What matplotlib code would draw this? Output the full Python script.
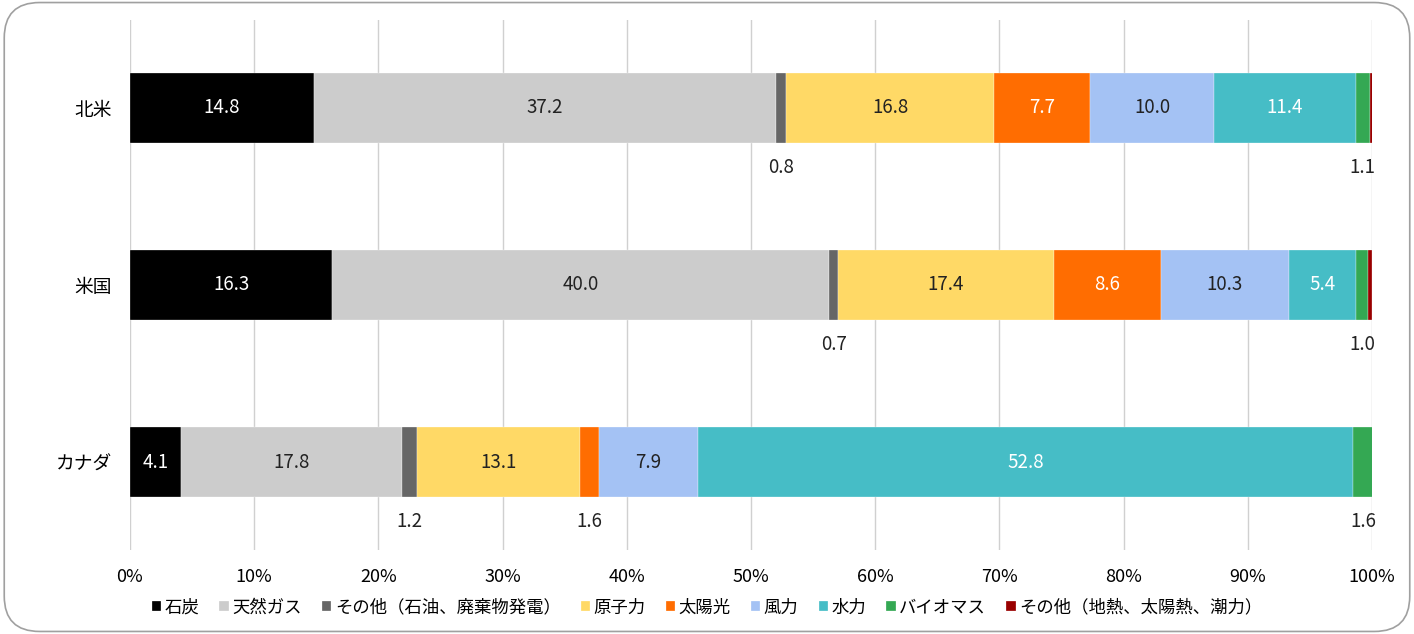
import matplotlib.pyplot as plt
import numpy as np
from matplotlib.patches import FancyBboxPatch

plt.rcParams['font.family'] = ['Noto Sans CJK JP', 'DejaVu Sans']

regions = ["北米", "米国", "カナダ"]
sources = ["石炭", "天然ガス", "その他（石油、廃棄物発電）", "原子力", "太陽光",
           "風力", "水力", "バイオマス", "その他（地熱、太陽熱、潮力）"]
coal = [14.8, 16.3, 4.1]
gas = [37.2, 40.0, 17.8]
other_thermal = [0.8, 0.7, 1.2]
nuclear = [16.8, 17.4, 13.1]
solar = [7.7, 8.6, 1.6]
wind = [10.0, 10.3, 7.9]
hydro = [11.4, 5.4, 52.8]
biomass = [1.1, 1.0, 1.6]
other_re = [0.3, 0.3, 0.0]

colors = ["#000000", "#cccccc", "#666666", "#ffd966", "#ff6d01",
          "#a4c2f4", "#46bdc6", "#34a853", "#990000"]
text_colors = ["white", "#222222", "#222222", "#222222", "white",
               "#222222", "white", "white", "white"]

series = [coal, gas, other_thermal, nuclear, solar, wind, hydro, biomass, other_re]

fig = plt.figure(figsize=(14.14, 6.34), dpi=100)
fig.patches.append(FancyBboxPatch((0.003, 0.004), 0.994, 0.992,
                                  boxstyle="round,pad=0,rounding_size=0.025",
                                  transform=fig.transFigure, fill=False,
                                  edgecolor="#a0a0a0", linewidth=1.2,
                                  mutation_aspect=14.14 / 6.34))
ax = fig.add_axes([0.0919, 0.1325, 0.8784, 0.836])

y = np.arange(len(regions))
left = np.zeros(len(regions))
for i, (name, vals) in enumerate(zip(sources, series)):
    vals = np.array(vals)
    ax.barh(y, vals, left=left, height=0.395, color=colors[i], label=name,
            edgecolor="white", linewidth=0.2, zorder=3)
    for j, v in enumerate(vals):
        if v <= 0 or i == 8:
            continue
        cx = left[j] + v / 2
        if v < 2:
            ax.text(cx, y[j] + 0.335, f"{v:.1f}", ha="center", va="center",
                    fontsize=13.5, color="#222222")
        else:
            ax.text(cx, y[j], f"{v:.1f}", ha="center", va="center",
                    fontsize=13.5, color=text_colors[i], zorder=4)
    left += vals

ax.set_xlim(0, 100)
ax.set_ylim(2.497, -0.497)
ax.set_xticks(np.arange(0, 101, 10))
ax.set_xticklabels([f"{t}%" for t in range(0, 101, 10)], fontsize=13)
ax.set_yticks(y)
ax.set_yticklabels(regions, fontsize=13.5)
ax.tick_params(axis="both", length=0)
ax.tick_params(axis="x", pad=13)
ax.tick_params(axis="y", pad=13)
ax.grid(axis="x", color="#d0d0d0", linewidth=1, zorder=0)
for s in ax.spines.values():
    s.set_visible(False)

ax.legend(loc="center", bbox_to_anchor=(0.5, 0.042), bbox_transform=fig.transFigure,
          ncol=9, frameon=False, fontsize=12.5, handlelength=0.55, handleheight=0.55,
          handletextpad=0.2, columnspacing=1.15)

fig.savefig("out.png", dpi=100)
